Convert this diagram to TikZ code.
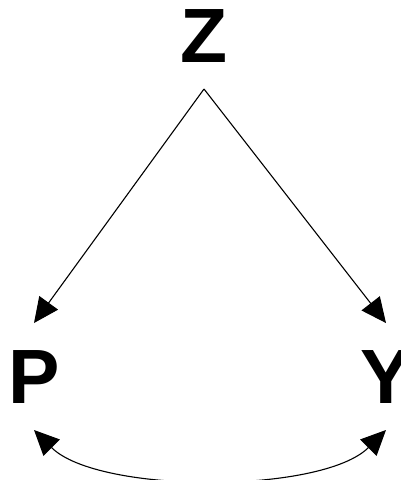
\documentclass[tikz,border=0pt]{standalone}
\usepackage{fontspec}
\setmainfont{Liberation Sans}
\usetikzlibrary{arrows.meta}
\begin{document}
\begin{tikzpicture}[x=1pt,y=-1pt,
  var/.style={inner sep=0pt, outer sep=27pt, font=\fontsize{77}{80}\selectfont\bfseries, anchor=base},
  edge/.style={line width=1.1pt, -{Triangle[length=25pt,width=23pt]}},
  biedge/.style={line width=1.1pt, {Triangle[length=25pt,width=23pt]}-{Triangle[length=25pt,width=23pt]}}]
\useasboundingbox (0,0) rectangle (401,480);
\node[var] (Z) at (204,62) {Z};
\node[var] (P) at (34,403) {P};
\node[var] (Y) at (386,403) {Y};
\draw[edge] (Z.south) -- (P.north);
\draw[edge] (Z.south) -- (Y.north);
\draw[biedge] (P.south) to[out=-45,in=-135,looseness=0.66] (Y.south);
\end{tikzpicture}
\end{document}
